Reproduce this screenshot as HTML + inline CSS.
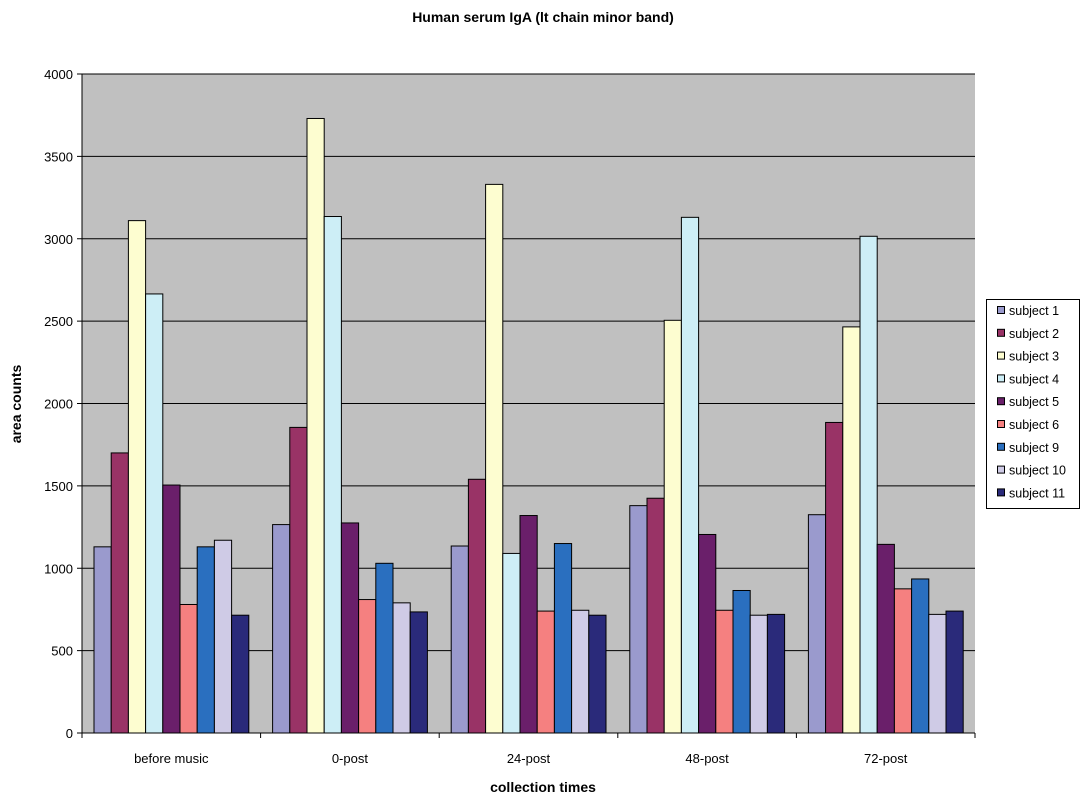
<!DOCTYPE html>
<html><head><meta charset="utf-8"><style>
body{margin:0;background:#fff;width:1087px;height:803px;overflow:hidden;font-family:"Liberation Sans",Arial,sans-serif}
</style></head><body>
<svg id="c" width="1087" height="803" xmlns="http://www.w3.org/2000/svg" font-family="Liberation Sans, Arial, sans-serif"></svg>
<script>
const L=82,R=975,T=74,B=733,s=(B-T)/4000;
const data=[[1130,1700,3110,2665,1505,780,1130,1170,715],[1265,1855,3730,3135,1275,810,1030,790,735],[1135,1540,3330,1090,1320,740,1150,745,715],[1380,1425,2505,3130,1205,745,865,715,720],[1325,1885,2465,3015,1145,875,935,720,740]];
const cols=["#9a9acd","#993366","#fdfdd0","#cdeef6","#6a1f6a","#f58080","#2a6fbf","#cfcbe6","#2a2a7a"];
const names=["subject 1","subject 2","subject 3","subject 4","subject 5","subject 6","subject 9","subject 10","subject 11"];
const cats=["before music","0-post","24-post","48-post","72-post"];
let h=`<rect x="${L}" y="${T}" width="${R-L}" height="${B-T}" fill="#c0c0c0"/>`;
h+=`<text x="543" y="22" font-size="14" font-weight="bold" text-anchor="middle">Human serum IgA (lt chain minor band)</text>`;
for(let v=0;v<=4000;v+=500){let y=B-v*s;h+=`<line x1="${L}" x2="${R}" y1="${y}" y2="${y}" stroke="#000" stroke-width="1"/><line x1="${L-5}" x2="${L}" y1="${y}" y2="${y}" stroke="#000"/><text x="${L-9}" y="${y+5}" font-size="13" text-anchor="end">${v}</text>`;}
const gw=(R-L)/5,bw=17.2;
data.forEach((g,i)=>{let x0=L+i*gw+12;g.forEach((v,j)=>{let y=B-v*s;h+=`<rect x="${x0+j*bw}" y="${y}" width="${bw}" height="${B-y}" fill="${cols[j]}" stroke="#000" stroke-width="1"/>`;});
h+=`<text x="${L+i*gw+gw/2}" y="763" font-size="13" text-anchor="middle">${cats[i]}</text><line x1="${L+(i+1)*gw}" x2="${L+(i+1)*gw}" y1="${B}" y2="${B+5}" stroke="#000"/>`;});
h+=`<line x1="${L}" x2="${L}" y1="${T}" y2="${B+5}" stroke="#000"/><line x1="${L}" x2="${R}" y1="${B}" y2="${B}" stroke="#000"/>`;
h+=`<text x="543" y="792" font-size="14" font-weight="bold" text-anchor="middle">collection times</text>`;
h+=`<text transform="translate(21,404) rotate(-90)" font-size="14" font-weight="bold" text-anchor="middle">area counts</text>`;
h+=`<rect x="986.5" y="299.5" width="93" height="209" fill="#fff" stroke="#000"/>`;
names.forEach((n,i)=>{let y=311+i*22.8;h+=`<rect x="997.5" y="${y-4.5}" width="7" height="7" fill="${cols[i]}" stroke="#000"/><text x="1009" y="${y+4}" font-size="12.5">${n}</text>`;});
document.getElementById('c').innerHTML=h;
</script>
</body></html>
